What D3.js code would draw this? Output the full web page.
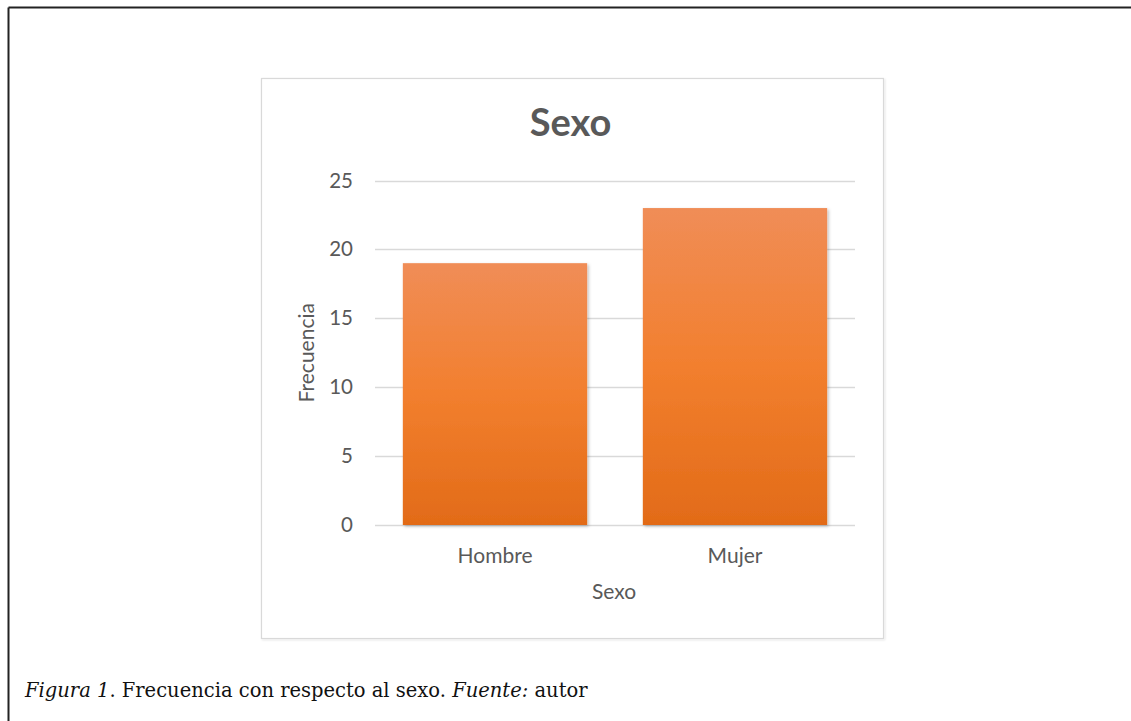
<!DOCTYPE html>
<html>
<head>
<meta charset="utf-8">
<script src="https://cdn.jsdelivr.net/npm/d3@7"></script>
<style>
  html, body { margin: 0; padding: 0; background: #fff; }
  svg { display: block; }
</style>
</head>
<body>
<svg id="chart"></svg>
<script>
// data
var categories = ["Hombre", "Mujer"];
var values = [19, 23];
var yTicks = [0, 5, 10, 15, 20, 25];
var chartTitle = "Sexo";
var xTitle = "Sexo";
var yTitle = "Frecuencia";

var width = 1131,
    height = 721;

var svg = d3.select("#chart")
    .attr("width", width)
    .attr("height", height);

var defs = svg.append("defs");

var grad = defs.append("linearGradient")
    .attr("id", "barGrad")
    .attr("x1", 0).attr("y1", 0)
    .attr("x2", 0).attr("y2", 1);
grad.append("stop").attr("offset", "0%").attr("stop-color", "#f08d57");
grad.append("stop").attr("offset", "50%").attr("stop-color", "#f27f2e");
grad.append("stop").attr("offset", "100%").attr("stop-color", "#e26b18");

var shadow = defs.append("filter")
    .attr("id", "barShadow")
    .attr("x", "-10%").attr("y", "-10%")
    .attr("width", "120%").attr("height", "120%");
shadow.append("feDropShadow")
    .attr("dx", 1.5).attr("dy", 1.5)
    .attr("stdDeviation", 1.5)
    .attr("flood-color", "#000")
    .attr("flood-opacity", 0.25);

var boxShadow = defs.append("filter")
    .attr("id", "boxShadow")
    .attr("x", "-5%").attr("y", "-5%")
    .attr("width", "110%").attr("height", "110%");
boxShadow.append("feDropShadow")
    .attr("dx", 1).attr("dy", 1)
    .attr("stdDeviation", 0.8)
    .attr("flood-color", "#000")
    .attr("flood-opacity", 0.12);

// outer document frame (left + top visible)
svg.append("line")
    .attr("x1", 8.5).attr("y1", 7.5).attr("x2", width).attr("y2", 7.5)
    .attr("stroke", "#222").attr("stroke-width", 2);
svg.append("line")
    .attr("x1", 8.5).attr("y1", 7.5).attr("x2", 8.5).attr("y2", height)
    .attr("stroke", "#222").attr("stroke-width", 2);

// chart area box
var box = { x: 261.5, y: 78.5, w: 622, h: 560 };
svg.append("rect")
    .attr("x", box.x).attr("y", box.y)
    .attr("width", box.w).attr("height", box.h)
    .attr("fill", "#fff")
    .attr("stroke", "#d9d9d9")
    .attr("stroke-width", 1.2)
    .attr("filter", "url(#boxShadow)");

var plot = { left: 375, right: 855, top: 180.5, bottom: 525 };

var x = d3.scaleBand()
    .domain(categories)
    .range([plot.left, plot.right])
    .paddingInner(0.232)
    .paddingOuter(0.116);

var y = d3.scaleLinear()
    .domain([0, 25])
    .range([plot.bottom, plot.top]);

var textColor = "#595959";
var font = "Lato, 'Open Sans', sans-serif";

// gridlines
svg.append("g")
    .selectAll("line")
    .data(yTicks)
    .enter().append("line")
    .attr("x1", plot.left)
    .attr("x2", plot.right)
    .attr("y1", function (d) { return Math.round(y(d)) + 0.5; })
    .attr("y2", function (d) { return Math.round(y(d)) + 0.5; })
    .attr("stroke", "#d9d9d9")
    .attr("stroke-width", 1.3);

// y axis labels
var yAxis = d3.axisLeft(y)
    .tickValues(yTicks)
    .tickSize(0)
    .tickPadding(22);
var yg = svg.append("g")
    .attr("transform", "translate(" + plot.left + ",0)")
    .call(yAxis);
yg.select(".domain").remove();
yg.selectAll("text")
    .attr("fill", textColor)
    .style("font-family", font)
    .style("font-size", "20.5px");

// bars
svg.append("g")
    .selectAll("rect")
    .data(values)
    .enter().append("rect")
    .attr("x", function (d, i) { return x(categories[i]); })
    .attr("y", function (d) { return y(d); })
    .attr("width", x.bandwidth())
    .attr("height", function (d) { return y(0) - y(d); })
    .attr("fill", "url(#barGrad)")
    .attr("filter", "url(#barShadow)");

// x axis labels
var xAxis = d3.axisBottom(x)
    .tickSize(0)
    .tickPadding(23);
var xg = svg.append("g")
    .attr("transform", "translate(0," + plot.bottom + ")")
    .call(xAxis);
xg.select(".domain").remove();
xg.selectAll("text")
    .attr("fill", textColor)
    .style("font-family", font)
    .style("font-size", "21px");

// titles
svg.append("text")
    .attr("x", box.x + box.w / 2 - 2)
    .attr("y", 136)
    .attr("text-anchor", "middle")
    .attr("fill", textColor)
    .style("font-family", font)
    .style("font-weight", "bold")
    .style("font-size", "38px")
    .text(chartTitle);

svg.append("text")
    .attr("x", (plot.left + plot.right) / 2 - 1)
    .attr("y", 599)
    .attr("text-anchor", "middle")
    .attr("fill", textColor)
    .style("font-family", font)
    .style("font-size", "21px")
    .text(xTitle);

svg.append("text")
    .attr("transform", "translate(314," + ((plot.top + plot.bottom) / 2) + ") rotate(-90)")
    .attr("text-anchor", "middle")
    .attr("fill", textColor)
    .style("font-family", font)
    .style("font-size", "21px")
    .text(yTitle);

// caption
var cap = svg.append("text")
    .attr("x", 25)
    .attr("y", 697)
    .attr("fill", "#111")
    .style("font-family", "'DejaVu Serif', serif")
    .style("font-size", "19.5px");
cap.append("tspan").style("font-style", "italic").text("Figura 1");
cap.append("tspan").text(". Frecuencia con respecto al sexo. ");
cap.append("tspan").style("font-style", "italic").text("Fuente:");
cap.append("tspan").text(" autor");
</script>
</body>
</html>
